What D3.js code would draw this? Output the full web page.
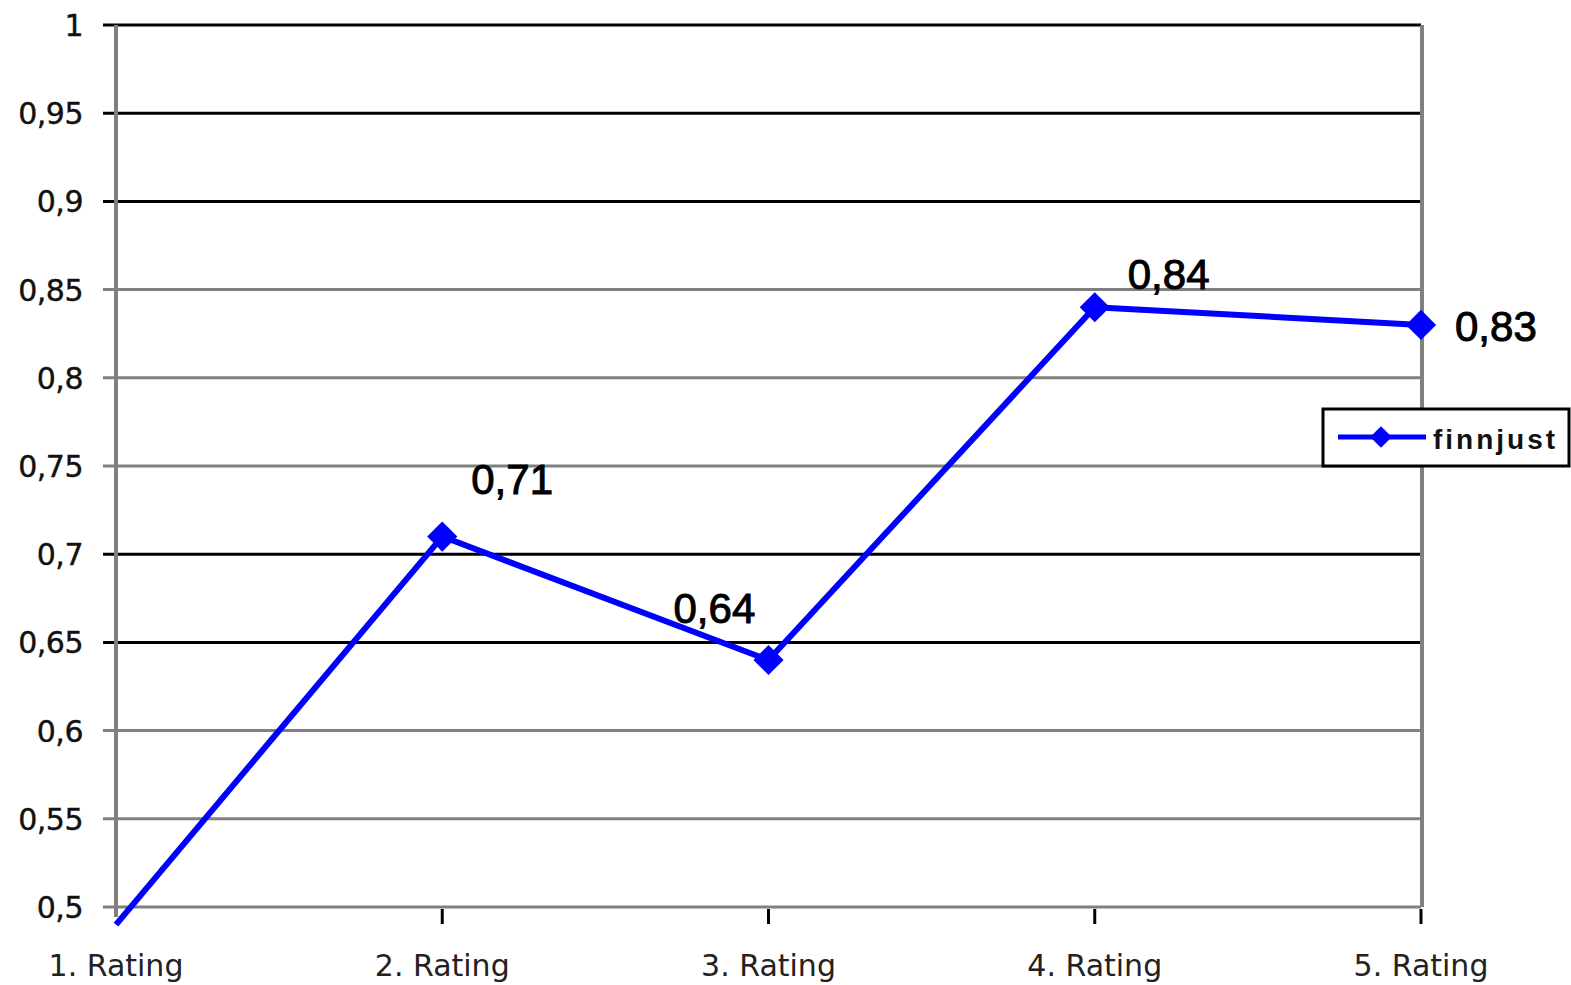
<!DOCTYPE html>
<html>
<head>
<meta charset="utf-8">
<script src="https://cdn.jsdelivr.net/npm/d3@7"></script>
<style>
  body { margin: 0; background: #fff; }
  svg { display: block; }
</style>
</head>
<body>
<div id="chart"></div>
<script>
// chart data
const categories = ['1. Rating', '2. Rating', '3. Rating', '4. Rating', '5. Rating'];
const values = [0.49, 0.71, 0.64, 0.84, 0.83];
const seriesName = 'finnjust';
const yTicks = [0.5, 0.55, 0.6, 0.65, 0.7, 0.75, 0.8, 0.85, 0.9, 0.95, 1];

// layout / style
const W = 1571, H = 985;
const M = { left: 116, right: 1421, top: 25, bottom: 907 };
const darkGrid = [1, 0.95, 0.9, 0.7, 0.65];
// hand placed label offsets, like the original
const labelOffsets = [null, [29, -43], [-95, -37], [33, -18], [34, 16]];

const fmt = v => String(+v.toFixed(2)).replace('.', ',');

const svg = d3.select('#chart').append('svg')
	.attr('width', W)
	.attr('height', H);

const x = d3.scalePoint()
	.domain(categories)
	.range([M.left, M.right]);

const y = d3.scaleLinear()
	.domain([0.5, 1])
	.range([M.bottom, M.top]);

// gridlines
svg.append('g').selectAll('line')
	.data(yTicks)
	.enter().append('line')
	.attr('x1', M.left - 13)
	.attr('x2', M.right)
	.attr('y1', d => y(d))
	.attr('y2', d => y(d))
	.attr('stroke', d => darkGrid.includes(d) ? '#000' : '#808080')
	.attr('stroke-width', 3);

// left and right verticals
svg.append('line')
	.attr('x1', M.left).attr('x2', M.left)
	.attr('y1', M.top).attr('y2', M.bottom + 10)
	.attr('stroke', '#808080').attr('stroke-width', 4);
svg.append('line')
	.attr('x1', M.right + 1).attr('x2', M.right + 1)
	.attr('y1', M.top).attr('y2', M.bottom)
	.attr('stroke', '#808080').attr('stroke-width', 4);

// y axis labels
svg.append('g').selectAll('text')
	.data(yTicks)
	.enter().append('text')
	.attr('x', 83)
	.attr('y', d => y(d) + 11)
	.attr('text-anchor', 'end')
	.attr('font-family', 'DejaVu Sans')
	.attr('font-size', 30)
	.attr('fill', '#111')
	.attr('stroke', '#111')
	.attr('stroke-width', 0.4)
	.attr('letter-spacing', -0.5)
	.text(d => fmt(d));

// x ticks + labels
svg.append('g').selectAll('line')
	.data(categories.slice(1))
	.enter().append('line')
	.attr('x1', d => x(d)).attr('x2', d => x(d))
	.attr('y1', M.bottom + 2).attr('y2', M.bottom + 17)
	.attr('stroke', '#000').attr('stroke-width', 3);

svg.append('g').selectAll('text')
	.data(categories)
	.enter().append('text')
	.attr('x', d => x(d))
	.attr('y', 976)
	.attr('text-anchor', 'middle')
	.attr('font-family', 'DejaVu Sans')
	.attr('font-size', 30)
	.attr('fill', '#222')
	.text(d => d);

// series line
const pts = categories.map((c, i) => ({ c, v: values[i], i }));

svg.append('path')
	.datum(pts)
	.attr('d', d3.line().x(d => x(d.c)).y(d => y(d.v)))
	.attr('fill', 'none')
	.attr('stroke', '#0000ff')
	.attr('stroke-width', 6)
	.attr('stroke-linejoin', 'round');

const diamond = d3.symbol().type(d3.symbolDiamond2);

svg.append('g').selectAll('path')
	.data(pts.filter(d => d.v >= 0.5))
	.enter().append('path')
	.attr('transform', d => `translate(${x(d.c)},${y(d.v)})`)
	.attr('d', diamond.size(580))
	.attr('fill', '#0000ff');

// value labels
svg.append('g').selectAll('text')
	.data(pts.filter(d => labelOffsets[d.i]))
	.enter().append('text')
	.attr('x', d => x(d.c) + labelOffsets[d.i][0])
	.attr('y', d => y(d.v) + labelOffsets[d.i][1])
	.attr('font-family', 'Liberation Sans, Arial')
	.attr('font-size', 42)
	.attr('fill', '#000')
	.attr('stroke', '#000')
	.attr('stroke-width', 1)
	.text(d => fmt(d.v));

// legend
const lg = svg.append('g').attr('transform', 'translate(1323,409)');
lg.append('rect')
	.attr('width', 246).attr('height', 57)
	.attr('fill', '#fff')
	.attr('stroke', '#000').attr('stroke-width', 3);
lg.append('line')
	.attr('x1', 15).attr('x2', 103)
	.attr('y1', 28).attr('y2', 28)
	.attr('stroke', '#0000ff').attr('stroke-width', 5);
lg.append('path')
	.attr('transform', 'translate(58,28)')
	.attr('d', diamond.size(300))
	.attr('fill', '#0000ff');
lg.append('text')
	.attr('x', 110).attr('y', 40)
	.attr('font-family', 'Liberation Sans, Arial')
	.attr('font-size', 28)
	.attr('font-weight', 'bold')
	.attr('letter-spacing', 3)
	.attr('fill', '#111')
	.text(seriesName);
</script>
</body>
</html>
